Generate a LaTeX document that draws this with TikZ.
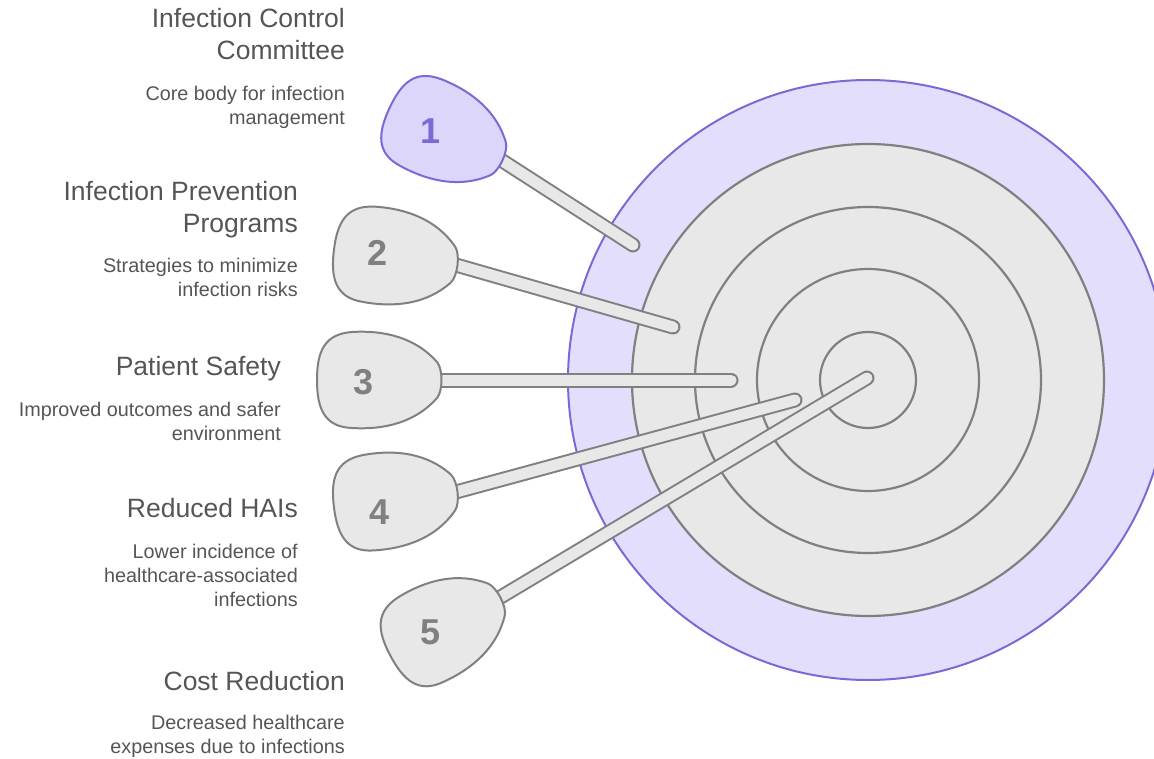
\documentclass[tikz,border=0pt]{standalone}
\usepackage{fontspec}
\setmainfont{Liberation Sans}
\definecolor{txt}{HTML}{555555}
\definecolor{ringfill}{HTML}{E8E8E8}
\definecolor{ringline}{HTML}{808080}
\definecolor{lav}{HTML}{E3DEFC}
\definecolor{purp}{HTML}{7B6AD6}
\definecolor{lavhead}{HTML}{DCD6FB}
\begin{document}
\begin{tikzpicture}[x=1pt,y=-1pt,
  ring/.style={circle, draw=ringline, fill=ringfill, line width=2.2pt, inner sep=0pt},
  stick/.style={draw=ringline, line width=2pt, double=ringfill, double distance=11pt, line cap=round},
  headshape/.pic={\path[pic actions] (-3,-18) .. controls (-24,-42) and (-55,-50) .. (-88,-48)
      .. controls (-116,-46) and (-123,-28) .. (-123,0)
      .. controls (-123,28) and (-116,47) .. (-88,48)
      .. controls (-55,50) and (-24,42) .. (-3,18)
      .. controls (3,11) and (3,-11) .. (-3,-18) -- cycle;},
  grayhead/.style={draw=ringline, fill=ringfill, line width=2pt},
  purphead/.style={draw=purp, fill=lavhead, line width=2pt},
  num/.style={font=\fontsize{36}{40}\selectfont\bfseries, text=ringline, inner sep=0pt},
  ttl/.style={font=\fontsize{26.5}{32}\selectfont, text=txt, align=right, inner sep=0pt, anchor=base east},
  dsc/.style={font=\fontsize{19.8}{24}\selectfont, text=txt, align=right, inner sep=0pt, anchor=base east}]
\useasboundingbox (0,0) rectangle (1154,759);
\clip (0,0) rectangle (1154,759);
% target
\node[ring, draw=purp, fill=lav, line width=2pt, minimum size=600pt] (r1) at (868,380) {};
\node[ring, minimum size=472pt] (r2) at (r1.center) {};
\node[ring, minimum size=346pt] (r3) at (r1.center) {};
\node[ring, minimum size=222pt] (r4) at (r1.center) {};
\node[ring, minimum size=96pt] (r5) at (r1.center) {};
% darts
\coordinate (a1) at (501,160); \coordinate (e1) at (633,245);
\coordinate (a2) at (456,265); \coordinate (e2) at (673,327);
\coordinate (a3) at (440,380); \coordinate (e3) at (731,380);
\coordinate (a4) at (456,492); \coordinate (e4) at (795,400);
\coordinate (a5) at (499,598); \coordinate (e5) at (867,378);
\draw[stick] (a1) -- (e1);
\pic[purphead, rotate=-25] at (a1) {headshape};
\node[num, text=purp] (n1) at (431,131) {1};
\draw[stick] (a2) -- (e2);
\pic[grayhead, rotate=-7] at (a2) {headshape};
\node[num] (n2) at (378,253) {2};
\draw[stick] (a3) -- (e3);
\pic[grayhead] at (a3) {headshape};
\node[num] (n3) at (364,382) {3};
\draw[stick] (a4) -- (e4);
\pic[grayhead, rotate=7] at (a4) {headshape};
\node[num] (n4) at (380,512) {4};
\draw[stick] (a5) -- (e5);
\pic[grayhead, rotate=28] at (a5) {headshape};
\node[num] (n5) at (431,632) {5};
% texts (anchor = baseline of last line)
\node[ttl] (t1) at (345,60) {Infection Control\\Committee};
\node[dsc] (d1) at (345,125) {Core body for infection\\management};
\node[ttl] (t2) at (298,233) {Infection Prevention\\Programs};
\node[dsc] (d2) at (298,297) {Strategies to minimize\\infection risks};
\node[ttl] (t3) at (281,375) {Patient Safety};
\node[dsc] (d3) at (281,440) {Improved outcomes and safer\\environment};
\node[ttl] (t4) at (298,517) {Reduced HAIs};
\node[dsc] (d4) at (298,606) {Lower incidence of\\healthcare-associated\\infections};
\node[ttl] (t5) at (345,690) {Cost Reduction};
\node[dsc] (d5) at (345,753) {Decreased healthcare\\expenses due to infections};
\end{tikzpicture}
\end{document}
